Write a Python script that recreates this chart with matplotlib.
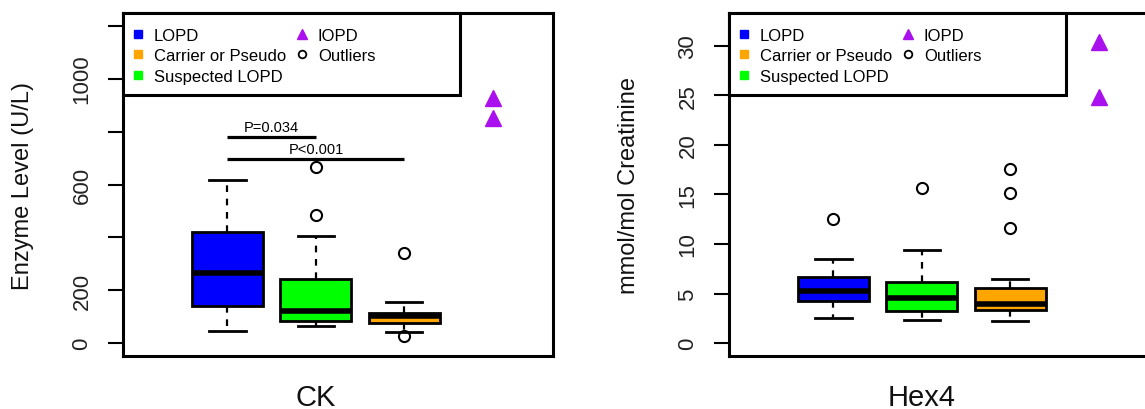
import matplotlib
matplotlib.use("Agg")
import matplotlib.pyplot as plt
from matplotlib.lines import Line2D
from matplotlib.patches import Rectangle
import matplotlib.transforms as mtransforms

plt.rcParams['font.family'] = ['Liberation Sans', 'DejaVu Sans']

# ---------------- data ----------------
groups = ["LOPD", "Suspected LOPD", "Carrier or Pseudo"]
group_colors = ["#0000FF", "#00FF00", "#FFA500"]

# CK (U/L) box statistics: whislo, q1, med, q3, whishi
ck_whislo = [48, 64, 41]
ck_q1 = [140, 83, 76]
ck_med = [265, 123, 104]
ck_q3 = [422, 242, 115]
ck_whishi = [616, 406, 157]
ck_fliers = [[], [485, 668], [343, 29]]
ck_iopd = [926, 851]

# Hex4 (mmol/mol creatinine)
hex_whislo = [2.58, 2.38, 2.28]
hex_q1 = [4.29, 3.23, 3.33]
hex_med = [5.24, 4.57, 3.98]
hex_q3 = [6.65, 6.21, 5.6]
hex_whishi = [8.5, 9.4, 6.48]
hex_fliers = [[12.53], [15.66], [17.57, 15.15, 11.59]]
hex_iopd = [30.34, 24.8]

legend_labels = ["LOPD", "Carrier or Pseudo", "Suspected LOPD", "IOPD", "Outliers"]
iopd_color = "#AA10EE"

ck_yticks = [0, 200, 400, 600, 800, 1000, 1200]
ck_yticklabels = ["0", "200", "", "600", "", "1000", ""]
hex_yticks = [0, 5, 10, 15, 20, 25, 30]
hex_yticklabels = ["0", "5", "10", "15", "20", "25", "30"]

# ---------------- figure ----------------
W, H = 1145, 410
fig = plt.figure(figsize=(W / 100, H / 100), dpi=100)

def px_axes(left, top, right, bottom):
    return fig.add_axes([left / W, 1 - bottom / H, (right - left) / W, (bottom - top) / H])

ax1 = px_axes(123, 14, 553, 357)
ax2 = px_axes(729, 14, 1159, 357)

def draw_panel(ax, whislo, q1, med, q3, whishi, fliers, iopd, ylim, yticks, yticklabels,
               ylabel, xlabel):
    stats = []
    for i in range(3):
        stats.append(dict(whislo=whislo[i], q1=q1[i], med=med[i], q3=q3[i],
                          whishi=whishi[i], fliers=fliers[i]))
    bp = ax.bxp(stats, positions=[1, 2, 3], widths=0.8, capwidths=0.41,
                patch_artist=True, showfliers=True,
                boxprops=dict(linewidth=2.0, edgecolor='black'),
                medianprops=dict(color='black', linewidth=4.0, solid_capstyle='butt'),
                whiskerprops=dict(color='black', linewidth=1.6, linestyle=(0, (3, 3))),
                capprops=dict(color='black', linewidth=2.0),
                flierprops=dict(marker='o', markersize=8, markerfacecolor='none',
                                markeredgecolor='black', markeredgewidth=1.5,
                                linestyle='none'))
    for patch, c in zip(bp['boxes'], group_colors):
        patch.set_facecolor(c)
    ax.plot([4] * len(iopd), iopd, linestyle='none', marker='^', markersize=11,
            color=iopd_color, markeredgecolor=iopd_color, clip_on=False, zorder=3)

    ax.set_xlim(-0.18, 4.68)
    ax.set_ylim(*ylim)
    ax.set_xticks([])
    ax.set_yticks(yticks)
    ax.set_yticklabels(yticklabels, rotation=90, va='center', color='#222222')
    ax.tick_params(axis='y', length=11, width=1.5, pad=11, labelsize=16)
    for s in ax.spines.values():
        s.set_linewidth(2.2)

    ax.text(-0.232, 0.5, ylabel, transform=ax.transAxes, rotation=90,
            ha='center', va='center', fontsize=17, color='#111111')
    trans = mtransforms.blended_transform_factory(ax.transData, ax.transAxes)
    ax.text(2, -0.142, xlabel, transform=trans, ha='center', va='baseline',
            fontsize=21, color='#111111')

    # legend box
    ax.add_patch(Rectangle((0, 0.7618), 0.7826, 0.2382, transform=ax.transAxes,
                           facecolor='white', edgecolor='black', linewidth=2.2,
                           zorder=4, clip_on=False))
    handles = [
        Line2D([], [], linestyle='none', marker='s', markersize=6, color=group_colors[0]),
        Line2D([], [], linestyle='none', marker='s', markersize=6, color=group_colors[2]),
        Line2D([], [], linestyle='none', marker='s', markersize=6, color=group_colors[1]),
        Line2D([], [], linestyle='none', marker='^', markersize=6.5, color=iopd_color),
        Line2D([], [], linestyle='none', marker='o', markersize=5.5, markerfacecolor='none',
               markeredgecolor='black', markeredgewidth=1.3),
    ]
    leg = ax.legend(handles, legend_labels, loc='upper left', bbox_to_anchor=(0.015, 0.957),
                    ncol=2, frameon=False, fontsize=12, handlelength=1.0,
                    handletextpad=0.46, columnspacing=0.45, labelspacing=0.33,
                    borderpad=0, borderaxespad=0)
    leg.set_zorder(5)
    return ax

draw_panel(ax1, ck_whislo, ck_q1, ck_med, ck_q3, ck_whishi, ck_fliers, ck_iopd,
           (-48, 1248), ck_yticks, ck_yticklabels, "Enzyme Level (U/L)", "CK")
draw_panel(ax2, hex_whislo, hex_q1, hex_med, hex_q3, hex_whishi, hex_fliers, hex_iopd,
           (-1.28, 33.28), hex_yticks, hex_yticklabels, "mmol/mol Creatinine", "Hex4")

# significance annotations on CK panel
sig_x0 = [1, 1]
sig_x1 = [2, 3]
sig_y = [779, 697]
sig_text = ["P=0.034", "P<0.001"]
for x0, x1, y, t in zip(sig_x0, sig_x1, sig_y, sig_text):
    ax1.plot([x0, x1], [y, y], color='black', linewidth=2.3, solid_capstyle='butt')
    ax1.text((x0 + x1) / 2, y + 10, t, ha='center', va='bottom', fontsize=10.5)

fig.savefig("out.png", dpi=100)
